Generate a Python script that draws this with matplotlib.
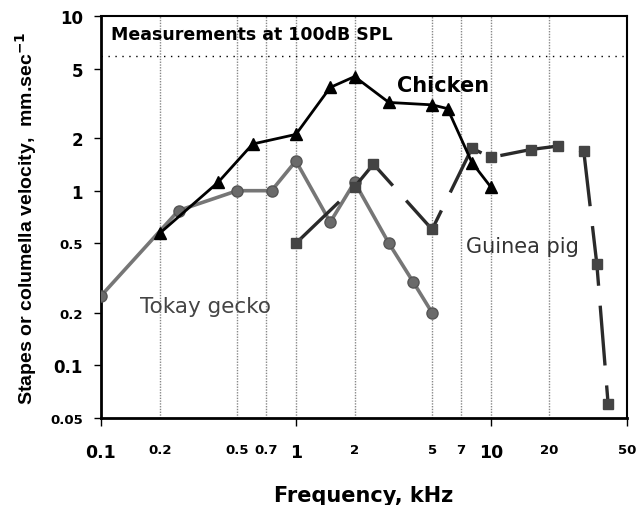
import matplotlib.pyplot as plt
import numpy as np

plt.rcParams['font.family'] = ['DejaVu Sans']

# data
chicken_f = [0.2, 0.4, 0.6, 1.0, 1.5, 2.0, 3.0, 5.0, 6.0, 8.0, 10.0]
chicken_v = [0.57, 1.12, 1.85, 2.1, 3.9, 4.5, 3.2, 3.1, 2.95, 1.45, 1.05]

gecko_f = [0.1, 0.25, 0.5, 0.75, 1.0, 1.5, 2.0, 3.0, 4.0, 5.0]
gecko_v = [0.25, 0.77, 1.0, 1.0, 1.48, 0.66, 1.12, 0.5, 0.3, 0.2]

pig_f = [1.0, 2.0, 2.5, 5.0, 8.0, 10.0, 16.0, 22.0, 30.0, 35.0, 40.0]
pig_v = [0.5, 1.05, 1.42, 0.6, 1.75, 1.55, 1.72, 1.8, 1.68, 0.38, 0.06]

ref_level = 5.9
grid_f = [0.2, 0.5, 0.7, 1, 2, 5, 7, 10, 20]

x_ticks = [0.1, 0.2, 0.5, 0.7, 1, 2, 5, 7, 10, 20, 50]
x_labels = ['0.1', '0.2', '0.5', '0.7', '1', '2', '5', '7', '10', '20', '50']
x_big = ['0.1', '1', '10']
y_ticks = [0.05, 0.1, 0.2, 0.5, 1, 2, 5, 10]
y_labels = ['0.05', '0.1', '0.2', '0.5', '1', '2', '5', '10']
y_big = ['0.1', '1', '2', '5', '10']

fig = plt.figure(figsize=(6.38, 5.06), dpi=100)
ax = fig.add_axes([0.1583, 0.172, 0.8245, 0.7944])
ax.set_xscale('log')
ax.set_yscale('log')
ax.set_xlim(0.1, 50)
ax.set_ylim(0.05, 10)

for g in grid_f:
    ax.axvline(g, color='#888888', lw=1.0, ls=(0, (1, 1)), zorder=1)
ax.axhline(ref_level, color='black', lw=1.0, ls=(0, (1, 4)), zorder=1)

ax.plot(gecko_f, gecko_v, color='#767676', lw=2.6, marker='o', ms=8,
        mfc='#6a6a6a', mec='#555555', zorder=3)
ax.plot(pig_f, pig_v, color='#2a2a2a', lw=2.4, ls=(0, (18, 6)), marker='s', ms=7,
        mfc='#444444', mec='#444444', zorder=4)
ax.plot(chicken_f, chicken_v, color='black', lw=2.0, marker='^', ms=9,
        mfc='black', mec='black', zorder=5)

ax.minorticks_off()
ax.set_xticks(x_ticks)
ax.set_xticklabels(x_labels)
for lab in ax.get_xticklabels():
    lab.set_fontweight('bold')
    lab.set_fontsize(12.5 if lab.get_text() in x_big else 9.5)
ax.tick_params(axis='x', length=6, width=1, pad=12)
ax.set_yticks(y_ticks)
ax.set_yticklabels(y_labels)
for lab in ax.get_yticklabels():
    lab.set_fontweight('bold')
    lab.set_fontsize(12 if lab.get_text() in y_big else 9.5)
ax.tick_params(axis='y', length=5, width=1, pad=8)
for t in ax.xaxis.get_major_ticks():
    if t.label1.get_text() not in ['0.1', '1', '10', '50']:
        t.tick1line.set_visible(False)

ax.spines['left'].set_linewidth(2.0)
ax.spines['bottom'].set_linewidth(2.0)
ax.spines['top'].set_linewidth(1.5)
ax.spines['right'].set_linewidth(1.5)

ax.text(0.112, 7.9, 'Measurements at 100dB SPL', fontsize=12.5, fontweight='bold',
        va='center')
ax.text(3.3, 4.03, 'Chicken', fontsize=15, fontweight='bold', va='center')
ax.text(7.5, 0.48, 'Guinea pig', fontsize=15, color='#333333', va='center')
ax.text(0.158, 0.219, 'Tokay gecko', fontsize=15.5, color='#444444', va='center')

ax.set_xlabel('Frequency, kHz', fontsize=15, fontweight='bold', labelpad=17)
ax.set_ylabel('Stapes or columella velocity,  mm.sec$^{\\mathbf{-1}}$', fontsize=14,
              fontweight='bold', labelpad=8, family='Liberation Sans')

fig.savefig('out.png', dpi=100)
